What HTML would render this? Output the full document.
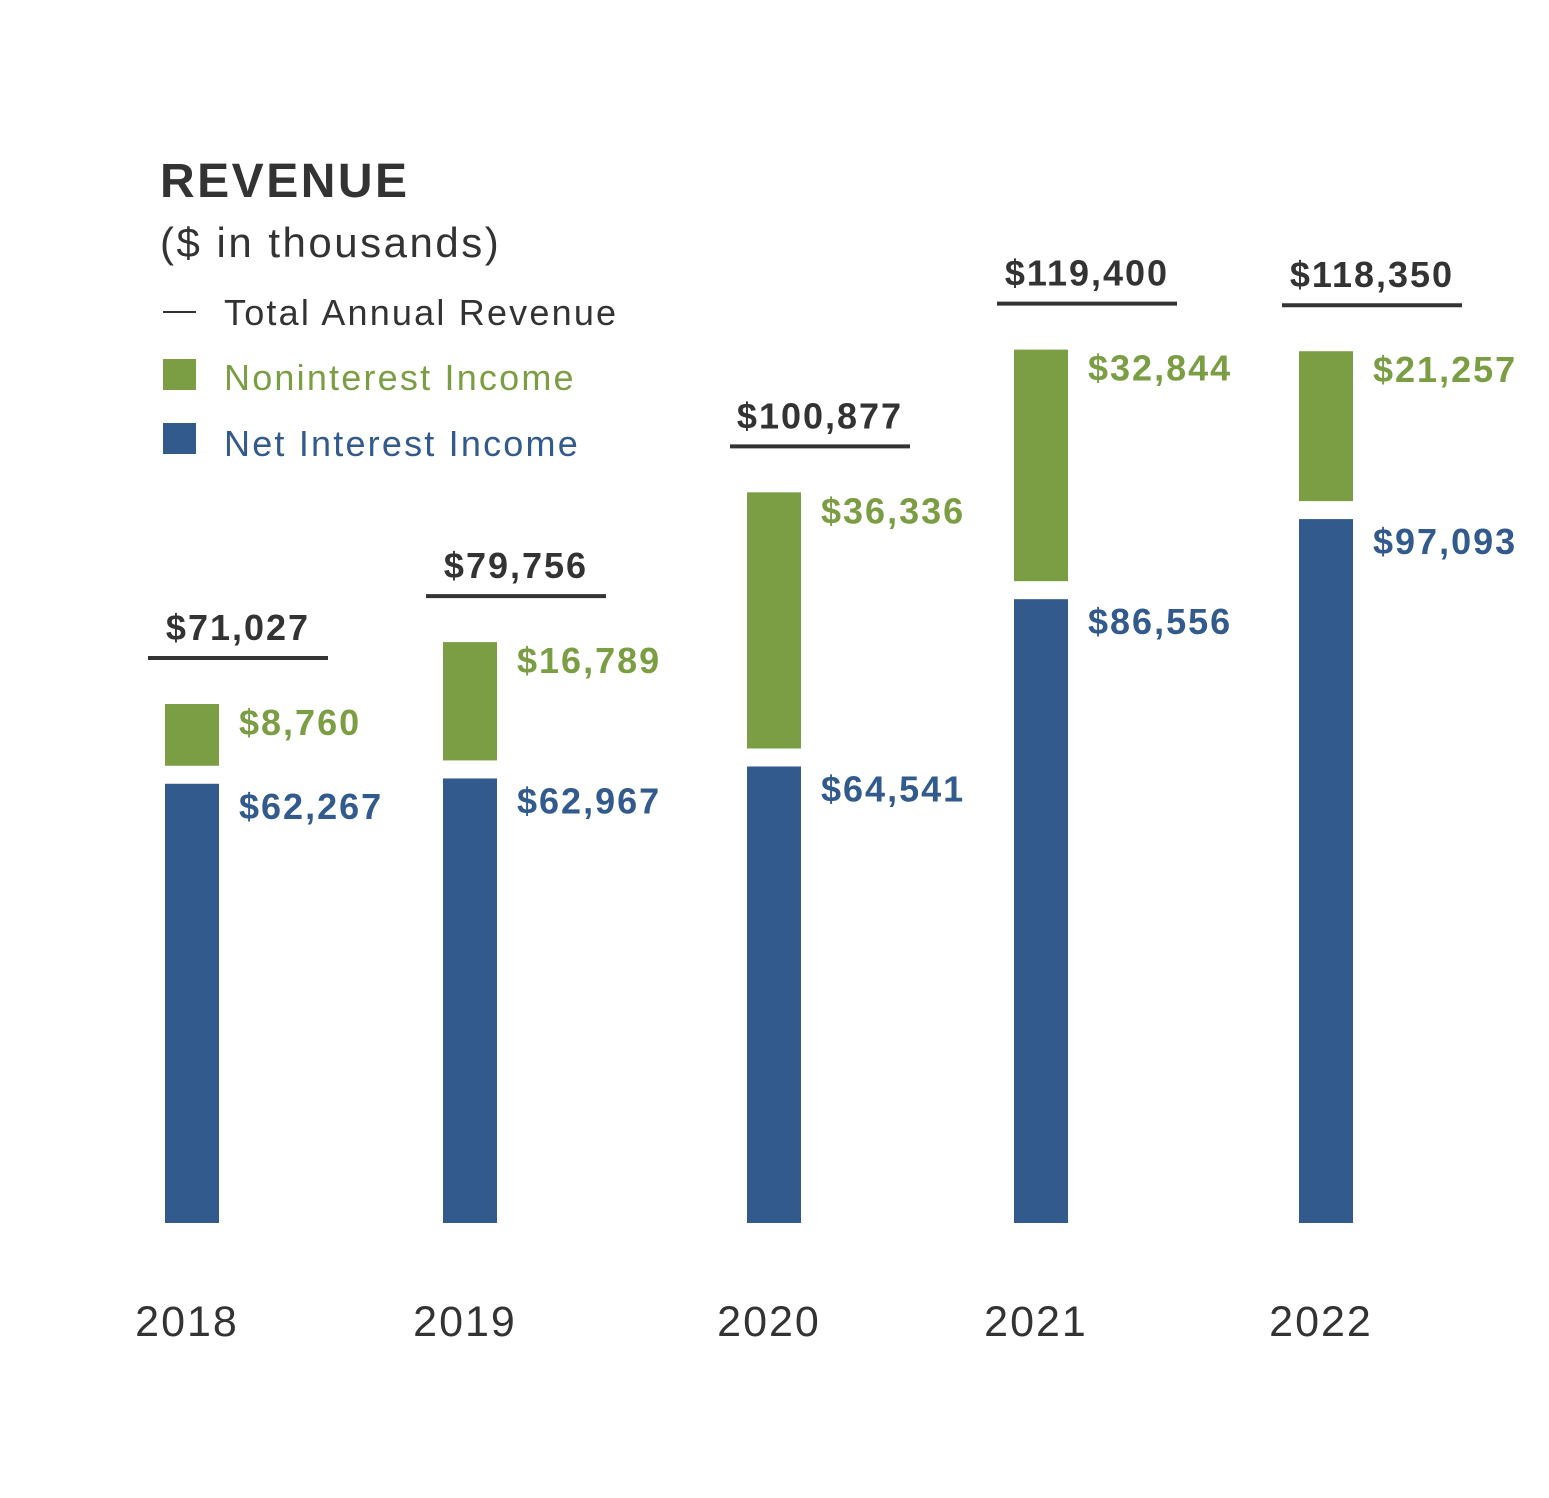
<!DOCTYPE html>
<html><head><meta charset="utf-8"><style>
html,body{margin:0;padding:0;background:#fff;}
#root{position:relative;width:1549px;height:1498px;overflow:hidden;font-family:"Liberation Sans",sans-serif;}
svg text{font-family:"Liberation Sans",sans-serif;}
</style></head><body>
<div id="root">
<svg id="chart" width="1549" height="1498">
  <text x="160" y="197" font-size="48" font-weight="bold" fill="#333" letter-spacing="2.5">REVENUE</text>
  <text x="160" y="257" font-size="42" fill="#333" letter-spacing="2.5">($ in thousands)</text>
  <line x1="163" y1="312" x2="196" y2="312" stroke="#333" stroke-width="2"/>
  <text x="224" y="325" font-size="36" fill="#333" letter-spacing="2.2">Total Annual Revenue</text>
  <rect x="163" y="359" width="33" height="31" fill="#7b9e45"/>
  <text x="224" y="390" font-size="36" fill="#7b9e45" letter-spacing="2.2">Noninterest Income</text>
  <rect x="163" y="423" width="33" height="31" fill="#325a8c"/>
  <text x="224" y="456" font-size="36" fill="#325a8c" letter-spacing="2.2">Net Interest Income</text>
  <g id="marks"></g>
</svg>
</div>
<script>
const years = ["2018","2019","2020","2021","2022"];
const netInterest = [62267, 62967, 64541, 86556, 97093];
const noninterest = [8760, 16789, 36336, 32844, 21257];
const totals = [71027, 79756, 100877, 119400, 118350];

const barX = [165, 443, 747, 1014, 1299];
const barW = 54, baseline = 1223, gap = 18;
function yBlue(v){ return v * 7.6 / 1000 - 34; }
function yGreen(v){ return v * 7.05 / 1000; }
function fmt(v){ return "$" + v.toLocaleString("en-US"); }
const NS = "http://www.w3.org/2000/svg";
const g = document.getElementById("marks");
function mk(tag, attrs, text){
  const e = document.createElementNS(NS, tag);
  for (const k in attrs) e.setAttribute(k, attrs[k]);
  if (text !== undefined) e.textContent = text;
  g.appendChild(e);
  return e;
}
years.forEach((yr, i) => {
  const x = barX[i];
  const bh = yBlue(netInterest[i]);
  const bTop = baseline - bh;
  const b = mk("rect", {x: x, y: bTop, width: barW, height: bh, fill: "#325a8c"});
  
  
  const gh = yGreen(noninterest[i]);
  const gTop = bTop - gap - gh;
  const gr = mk("rect", {x: x, y: gTop, width: barW, height: gh, fill: "#7b9e45"});
  
  
  const bl = mk("text", {x: x + barW + 20, y: bTop + 35, "font-size": 36, "font-weight": "bold", "letter-spacing": 2, fill: "#325a8c"}, fmt(netInterest[i]));
  
  
  const gl = mk("text", {x: x + barW + 20, y: gTop + 31, "font-size": 36, "font-weight": "bold", "letter-spacing": 2, fill: "#7b9e45"}, fmt(noninterest[i]));
  
  
  const ly = gTop - 46;
  const ln = mk("line", {x1: x - 17, x2: x + 163, y1: ly, y2: ly, stroke: "#333", "stroke-width": 4});
  
  
  const tl = mk("text", {x: x + 73, y: ly - 18, "font-size": 36, "font-weight": "bold", "letter-spacing": 2, fill: "#333", "text-anchor": "middle"}, fmt(totals[i]));
  
  
  const yl = mk("text", {x: x + 22, y: 1336, "font-size": 43, "letter-spacing": 2, fill: "#333", "text-anchor": "middle"}, yr);
  
  
});
</script>
</body></html>
